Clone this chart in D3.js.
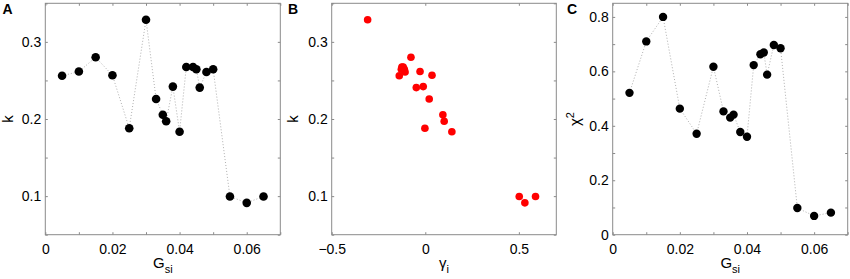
<!DOCTYPE html>
<html><head><meta charset="utf-8">
<script src="https://cdn.jsdelivr.net/npm/d3@7"></script>
<style>body{margin:0;background:#fff}svg{display:block}text{font-family:"Liberation Sans",Arial,sans-serif}</style>
</head><body><svg id="c" width="850" height="279"></svg>
<script>
// Data
const gsi = [0.005,0.010,0.015,0.020,0.025,0.030,0.033,0.035,0.036,0.038,0.040,0.042,0.044,0.045,0.046,0.048,0.050,0.055,0.060,0.065];
const kVals = [0.256,0.2615,0.280,0.2567,0.188,0.3286,0.226,0.2056,0.197,0.242,0.1835,0.2675,0.2675,0.2645,0.2407,0.261,0.2645,0.0996,0.0913,0.0996];
const gammaVals = [-0.139,-0.028,-0.0765,0.036,-0.002,-0.308,0.021,0.094,0.101,-0.011,0.142,-0.125,-0.118,-0.112,-0.048,-0.108,-0.128,0.502,0.532,0.589];
const chi2Vals = [0.521,0.710,0.800,0.463,0.371,0.617,0.453,0.430,0.441,0.377,0.360,0.623,0.663,0.669,0.588,0.697,0.685,0.098,0.069,0.081];
const gsiTicks = [0,0.01,0.02,0.03,0.04,0.05,0.06,0.07];
const gsiLabels = [0,0.02,0.04,0.06];
const kTicks = [0.05,0.1,0.15,0.2,0.25,0.3,0.35];
const kLabels = [0.1,0.2,0.3];
const gammaTicks = [-0.5,0,0.5];
const chiTicks = [0,0.1,0.2,0.3,0.4,0.5,0.6,0.7,0.8];
const chiLabels = [0,0.2,0.4,0.6,0.8];

const svg = d3.select("#c");
svg.append("rect").attr("width",850).attr("height",279).attr("fill","#fff");
const yTop=3.3, yBot=234.7;
const axisCol="#8a8a8a";

function fmt(v){ if(v===0) return "0"; return (v<0?"\u2212":"")+String(Math.abs(+v.toFixed(3))); }

function panel(opt){
  const g = svg.append("g");
  const x = d3.scaleLinear().domain(opt.xd).range([opt.x0,opt.x1]);
  const y = d3.scaleLinear().domain(opt.yd).range([yBot,yTop]);
  if(opt.line){
    g.append("path").datum(opt.xs.map((v,i)=>[v,opt.ys[i]]))
      .attr("d",d3.line().x(d=>x(d[0])).y(d=>y(d[1])))
      .attr("fill","none").attr("stroke","#b0b0b0").attr("stroke-width",1).attr("stroke-dasharray","1,2");
  }
  g.selectAll("circle").data(opt.xs.map((v,i)=>[v,opt.ys[i]])).join("circle")
    .attr("cx",d=>x(d[0])).attr("cy",d=>y(d[1])).attr("r",opt.r).attr("fill",opt.col);
  const ax = g.append("g").attr("transform",`translate(0,${yBot})`)
    .call(d3.axisBottom(x).tickValues(opt.xt).tickSize(-2.5).tickPadding(9).tickFormat(d=>opt.xl.some(v=>Math.abs(v-d)<1e-9)?fmt(d):""));
  const axT = g.append("g").attr("transform",`translate(0,${yTop})`)
    .call(d3.axisTop(x).tickValues(opt.xt).tickSize(-2.5).tickFormat(""));
  const ay = g.append("g").attr("transform",`translate(${opt.x0},0)`)
    .call(d3.axisLeft(y).tickValues(opt.yt).tickSize(-2.5).tickPadding(4).tickFormat(d=>opt.yl.some(v=>Math.abs(v-d)<1e-9)?fmt(d):""));
  const ayR = g.append("g").attr("transform",`translate(${opt.x1},0)`)
    .call(d3.axisRight(y).tickValues(opt.yt).tickSize(-2.5).tickFormat(""));
  [ax,axT,ay,ayR].forEach(a=>{
    a.select(".domain").remove();
    a.selectAll("line").attr("stroke",axisCol);
    a.selectAll("text").attr("fill","#000").attr("font-size",14).attr("font-family","Liberation Sans, Arial, sans-serif");
  });
  g.append("rect").attr("x",opt.x0).attr("y",yTop).attr("width",opt.x1-opt.x0).attr("height",yBot-yTop)
    .attr("fill","none").attr("stroke",axisCol).attr("stroke-width",1);
  g.append("text").attr("x",opt.lx).attr("y",14).attr("font-size",14).attr("font-weight","bold").text(opt.letter);
  const xc=(opt.x0+opt.x1)/2;
  const xlab = g.append("text").attr("x",xc).attr("y",268).attr("text-anchor","middle").attr("font-size",15);
  xlab.append("tspan").text(opt.xname[0]);
  xlab.append("tspan").attr("dy",5).attr("font-size",11).text(opt.xname[1]);
  const ylab = g.append("text").attr("transform",`translate(${opt.ylx},${(yTop+yBot)/2}) rotate(-90)`)
    .attr("text-anchor","middle").attr("font-size",15);
  ylab.append("tspan").text(opt.yname[0]);
  if(opt.yname[1]) ylab.append("tspan").attr("dy",-6).attr("font-size",11).text(opt.yname[1]);
}

panel({x0:45.3,x1:280.3,xd:[0,0.07],yd:[0.05,0.35],xs:gsi,ys:kVals,line:true,r:4.3,col:"#000",
  xt:gsiTicks,xl:gsiLabels,yt:kTicks,yl:kLabels,letter:"A",lx:2.5,xname:["G","si"],yname:["k"],ylx:13});
panel({x0:331.7,x1:556.3,xd:[-0.5,0.7],yd:[0.05,0.35],xs:gammaVals,ys:kVals,line:false,r:3.8,col:"#ff0000",
  xt:gammaTicks,xl:gammaTicks,yt:kTicks,yl:kLabels,letter:"B",lx:288,xname:["\u03b3","i"],yname:["k"],ylx:298});
panel({x0:612.7,x1:847.7,xd:[0,0.07],yd:[0,0.85],xs:gsi,ys:chi2Vals,line:true,r:4.2,col:"#000",
  xt:gsiTicks,xl:gsiLabels,yt:chiTicks,yl:chiLabels,letter:"C",lx:567,xname:["G","si"],yname:["\u03c7","2"],ylx:580});
</script></body></html>
